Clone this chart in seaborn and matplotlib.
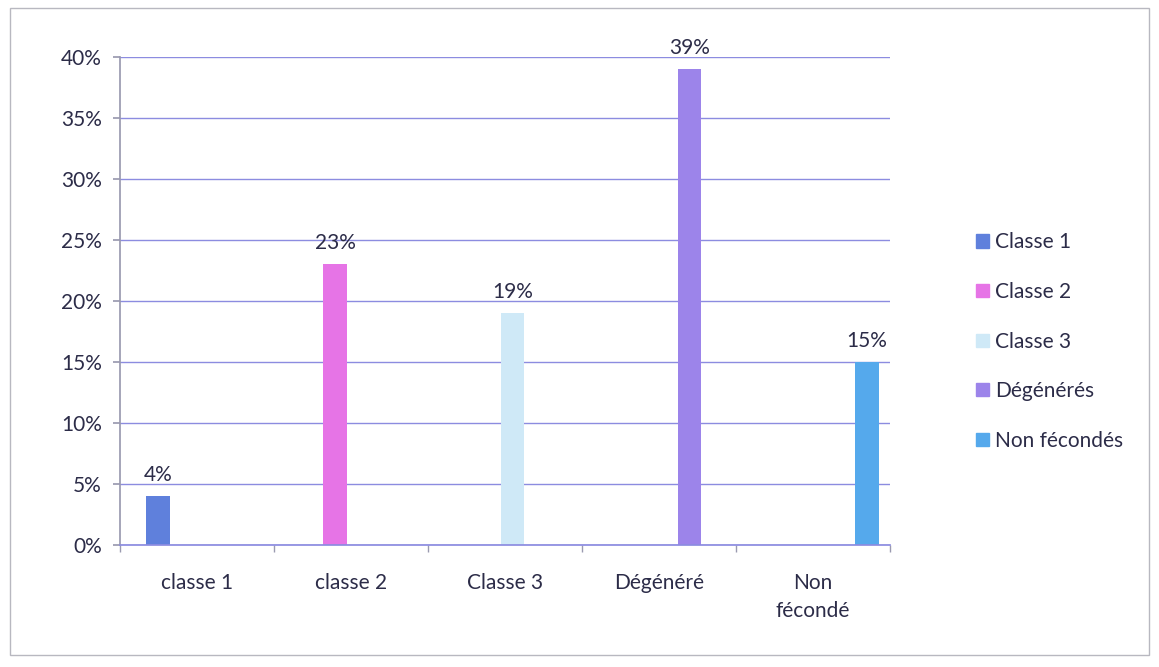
import pandas as pd
import matplotlib.pyplot as plt
import seaborn as sns
from matplotlib.patches import Rectangle
from matplotlib.ticker import PercentFormatter, FixedLocator

# Données
categories = ["classe 1", "classe 2", "Classe 3", "Dégénéré", "Non\nfécondé"]
series = ["Classe 1", "Classe 2", "Classe 3", "Dégénérés", "Non fécondés"]
valeurs = [0.04, 0.23, 0.19, 0.39, 0.15]
couleurs = ["#5f80dc", "#e674e6", "#cfe9f7", "#9c84ea", "#55a9ec"]

df = pd.DataFrame({"categorie": categories, "serie": series, "valeur": valeurs})

sns.set_theme(style="white")
plt.rcParams["font.family"] = ["Lato", "DejaVu Sans"]
texte = "#2c2c48"

fig = plt.figure(figsize=(11.59, 6.67), dpi=100)
ax = fig.add_axes([0.1035, 0.183, 0.664, 0.732])

sns.barplot(data=df, x="categorie", y="valeur", hue="serie", order=categories,
            hue_order=series, palette=couleurs, width=0.76, dodge=True,
            saturation=1, edgecolor="none", legend=False, ax=ax)

# léger décalage vers la droite (effet 3D de l'original)
for p in ax.patches:
    p.set_x(p.get_x() + 0.05)

# étiquettes de valeur au-dessus des barres
for cont in ax.containers:
    ax.bar_label(cont, labels=[f"{v*100:.0f}%" if v > 0 else "" for v in cont.datavalues],
                 padding=8, fontsize=15, color=texte)

grille = "#8c8ce0"
ax.set_ylim(0, 0.40)
ax.set_xlim(-0.5, 4.5)
ax.yaxis.set_major_locator(FixedLocator([0, .05, .10, .15, .20, .25, .30, .35, .40]))
ax.yaxis.set_major_formatter(PercentFormatter(1.0, decimals=0))
ax.grid(axis="y", color=grille, linewidth=1.0)
ax.set_axisbelow(True)

for s in ["top", "right"]:
    ax.spines[s].set_visible(False)
ax.spines["left"].set_color("#9a9ab0")
ax.spines["bottom"].set_color(grille)

ax.set_xticks(range(5))
ax.set_xticklabels(categories, fontsize=15, color=texte, linespacing=1.5)
ax.set_xticks([-0.5, 0.5, 1.5, 2.5, 3.5, 4.5], minor=True)
ax.tick_params(axis="x", which="major", length=0, pad=20)
ax.tick_params(axis="x", which="minor", length=5, color="#9a9ab0", direction="out", bottom=True)
ax.tick_params(axis="y", length=5, color="#9a9ab0", direction="out", left=True,
               labelsize=15, labelcolor=texte, pad=8)
ax.set_xlabel("")
ax.set_ylabel("")

# légende à droite
poignees = [Rectangle((0, 0), 1, 1, color=c) for c in couleurs]
fig.legend(poignees, series, loc="center left", bbox_to_anchor=(0.826, 0.488),
           frameon=False, fontsize=15, handlelength=0.6, handleheight=0.6,
           handletextpad=0.3, labelspacing=1.42, labelcolor=texte)

# cadre du graphique
fig.patches.append(Rectangle((0.009, 0.018), 0.982, 0.97, transform=fig.transFigure,
                             fill=False, edgecolor="#b8b8c0", linewidth=1.0))

fig.savefig("out.png", dpi=100)
